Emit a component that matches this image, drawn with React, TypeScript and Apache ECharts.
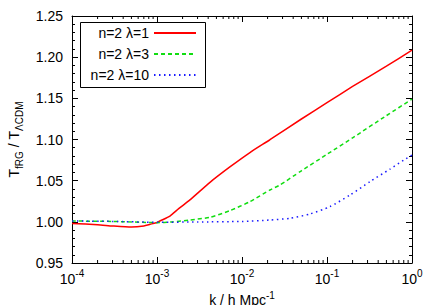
import React, { useEffect, useRef } from 'react';
import * as echarts from 'echarts';

// lambda = 1 (red, solid)
const kL1 = [1e-4, 2e-4, 3e-4, 5e-4, 7e-4, 8.3e-4, 1e-3, 1.08e-3, 1.42e-3, 1.8e-3, 2.44e-3, 4.2e-3, 7.2e-3, 0.0124, 0.0213, 0.05, 0.1, 0.2, 0.5, 1];
const vL1 = [0.998, 0.9965, 0.995, 0.9937, 0.995, 0.997, 0.9992, 1.001, 1.007, 1.016, 1.0266, 1.048, 1.0667, 1.0842, 1.0997, 1.1249, 1.1448, 1.1644, 1.189, 1.2085];
// lambda = 3 (green, dashed)
const kL3 = [1e-4, 3e-4, 1e-3, 1.5e-3, 2.44e-3, 4.2e-3, 7.2e-3, 0.0124, 0.0213, 0.028, 0.05, 0.1, 0.2, 0.5, 1];
const vL3 = [1.001, 1.0005, 0.999, 0.9998, 1.0022, 1.0055, 1.0136, 1.0245, 1.0387, 1.0448, 1.062, 1.082, 1.102, 1.129, 1.149];
// lambda = 10 (blue, dotted)
const kL10 = [1e-4, 3e-4, 1e-3, 3e-3, 0.01, 0.0213, 0.0367, 0.0627, 0.108, 0.187, 0.32, 0.55, 0.8, 1];
const vL10 = [1.001, 1.0005, 0.9995, 0.9998, 1.0005, 1.0022, 1.0043, 1.0095, 1.0184, 1.0326, 1.0488, 1.064, 1.075, 1.081];

const seriesNames = ['n=2 λ=1', 'n=2 λ=3', 'n=2 λ=10'];
const Y_MIN = 0.95;
const Y_MAX = 1.25;
const Y_STEP = 0.05;
const X_MIN = 1e-4;
const X_MAX = 1;
const X_DECADES = [1e-4, 1e-3, 1e-2, 1e-1];
const MINOR_MULT = [2, 3, 4, 5, 6, 7, 8, 9];
const xMinorTicks = X_DECADES.flatMap((d) => MINOR_MULT.map((m) => m * d));

const FONT = '"Liberation Sans", Arial, Helvetica, sans-serif';

const pairs = (ks: number[], vs: number[]) => ks.map((k, i) => [k, vs[i]]);

const LEGEND_TOPS = [26, 47, 68];

export default function App() {
  const ref = useRef<HTMLDivElement>(null);
  useEffect(() => {
    const chart = echarts.init(ref.current!, null, { renderer: 'svg' });
    const supRich = {
      b: { fontSize: 14, color: '#000', fontFamily: FONT, lineHeight: 22 },
      sup: { fontSize: 10, color: '#000', fontFamily: FONT, verticalAlign: 'top', lineHeight: 12 },
    };
    const nameRich = {
      b: { fontSize: 14, color: '#000', fontFamily: FONT, lineHeight: 18 },
      sup: { fontSize: 10, color: '#000', fontFamily: FONT, verticalAlign: 'top', lineHeight: 10 },
    };
    const xAxisBase = {
      type: 'log',
      logBase: 10,
      min: X_MIN,
      max: X_MAX,
      axisLine: { show: true, onZero: false, lineStyle: { color: '#000', width: 1 } },
      axisTick: { show: true, inside: true, length: 6, lineStyle: { color: '#000', width: 1 } },
      splitLine: { show: false },
      minorTick: { show: false },
    };
    const yAxisBase = {
      type: 'value',
      min: Y_MIN,
      max: Y_MAX,
      interval: Y_STEP,
      axisLine: { show: true, onZero: false, lineStyle: { color: '#000', width: 1 } },
      axisTick: { show: true, inside: true, length: 6, lineStyle: { color: '#000', width: 1 } },
      minorTick: { show: true, splitNumber: 5, length: 3, lineStyle: { color: '#000', width: 1 } },
      splitLine: { show: false },
    };
    chart.setOption({
      animation: false,
      backgroundColor: '#fff',
      grid: { left: 72, right: 24, top: 16, bottom: 42, containLabel: false, outerBoundsMode: 'none' },
      graphic: [
        {
          type: 'rect',
          z: 1,
          shape: { x: 80.5, y: 22.5, width: 125, height: 65 },
          style: { fill: '#fff', stroke: '#000', lineWidth: 1 },
        },
      ],
      legend: seriesNames.map((name, i) => ({
        orient: 'horizontal',
        right: 239,
        top: LEGEND_TOPS[i],
        align: 'right',
        itemWidth: 42,
        itemHeight: 14,
        padding: 0,
        itemStyle: { opacity: 0 },
        textStyle: { fontSize: 14, color: '#000', fontFamily: FONT },
        data: [name],
        z: 5,
      })),
      xAxis: [
        {
          ...xAxisBase,
          position: 'bottom',
          axisLabel: {
            show: true,
            margin: 5,
            formatter: (v: number) => '{b|10}{sup|' + Math.round(Math.log10(v)) + '}',
            rich: supRich,
          },
          name: '{b|k / h Mpc}{sup|-1}',
          nameLocation: 'middle',
          nameGap: 20,
          nameTextStyle: { rich: nameRich },
        },
        { ...xAxisBase, position: 'top', axisLabel: { show: false } },
      ],
      yAxis: [
        {
          ...yAxisBase,
          position: 'left',
          axisLabel: {
            show: true,
            margin: 9,
            fontSize: 14,
            color: '#000',
            fontFamily: FONT,
            formatter: (v: number) => v.toFixed(2),
          },
          name: '{t|T}{sub|fRG}{t| / T}{sub|ΛCDM}',
          nameLocation: 'middle',
          nameGap: 44,
          nameTextStyle: {
            rich: {
              t: { fontSize: 14, color: '#000', fontFamily: FONT, lineHeight: 22 },
              sub: { fontSize: 10, color: '#000', fontFamily: FONT, verticalAlign: 'bottom', lineHeight: 12 },
            },
          },
        },
        { ...yAxisBase, position: 'right', axisLabel: { show: false } },
      ],
      series: [
        {
          name: seriesNames[0],
          type: 'line',
          data: pairs(kL1, vL1),
          symbol: 'none',
          showSymbol: false,
          smooth: 0.2,
          color: '#ff0000',
          lineStyle: { color: '#ff0000', width: 1.5, type: 'solid' },
        },
        {
          name: seriesNames[1],
          type: 'line',
          data: pairs(kL3, vL3),
          symbol: 'none',
          showSymbol: false,
          smooth: 0.2,
          color: '#11dd11',
          lineStyle: { color: '#11dd11', width: 1.5, type: [4, 3] },
        },
        {
          name: seriesNames[2],
          type: 'line',
          data: pairs(kL10, vL10),
          symbol: 'none',
          showSymbol: false,
          smooth: 0.2,
          color: '#1a1aff',
          lineStyle: { color: '#1a1aff', width: 1.5, type: [1.5, 3.5] },
        },
        {
          name: 'minorTicks',
          type: 'custom',
          silent: true,
          clip: false,
          data: xMinorTicks.map((k) => [k, Y_MIN]),
          encode: { x: 0, y: 1 },
          renderItem: (params: any, api: any) => {
            const x = api.value(0);
            const b = api.coord([x, Y_MIN]);
            const t = api.coord([x, Y_MAX]);
            const style = { stroke: '#000', lineWidth: 1 };
            return {
              type: 'group',
              children: [
                { type: 'line', shape: { x1: b[0], y1: b[1], x2: b[0], y2: b[1] - 3 }, style },
                { type: 'line', shape: { x1: t[0], y1: t[1], x2: t[0], y2: t[1] + 3 }, style },
              ],
            };
          },
        },
      ],
    });
    return () => chart.dispose();
  }, []);
  return <div ref={ref} style={{ position: 'fixed', left: 0, top: 0, width: 436, height: 305 }} />;
}
